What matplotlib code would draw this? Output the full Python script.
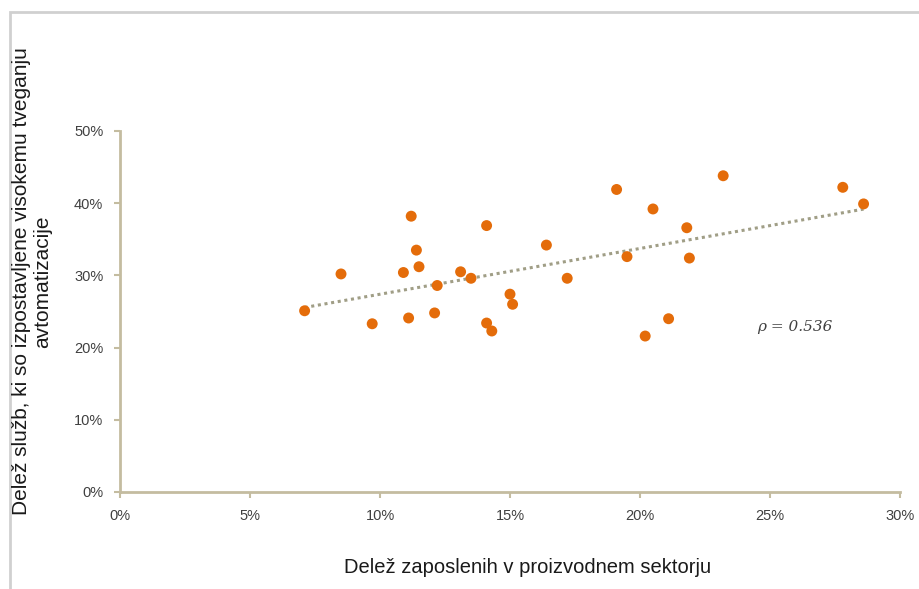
import matplotlib.pyplot as plt
from matplotlib.patches import Rectangle
from matplotlib.ticker import FuncFormatter
import numpy as np

# share of employment in manufacturing (%) vs share of jobs at high risk of automation (%)
manuf_share = [7.1, 8.5, 9.7, 10.9, 11.1, 11.2, 11.4, 11.5, 12.1, 12.2, 13.1, 13.5,
               14.1, 14.1, 14.3, 15.0, 15.1, 16.4, 17.2, 19.1, 19.5, 20.2, 20.5,
               21.1, 21.8, 21.9, 23.2, 27.8, 28.6]
risk_share = [25.1, 30.2, 23.3, 30.4, 24.1, 38.2, 33.5, 31.2, 24.8, 28.6, 30.5, 29.6,
              36.9, 23.4, 22.3, 27.4, 26.0, 34.2, 29.6, 41.9, 32.6, 21.6, 39.2,
              24.0, 36.6, 32.4, 43.8, 42.2, 39.9]
rho_text = "\u03c1 = 0.536"

x = np.array(manuf_share)
y = np.array(risk_share)

fig = plt.figure(figsize=(9.19, 5.89), dpi=100)
ax = fig.add_axes([0.1306, 0.1647, 0.8487, 0.6129])

# linear trend line over the data range
k, b = np.polyfit(x, y, 1)
xs = np.array([x.min(), x.max()])
ax.plot(xs, k * xs + b, color='#a09e86', linestyle=(0, (1, 1.2)), linewidth=2.2, zorder=2)

ax.scatter(x, y, s=62, color='#e46c0a', edgecolors='none', zorder=3)

ax.text(24.5, 22.85, rho_text, fontsize=11, family='DejaVu Serif', style='italic',
        color='#404040', va='center', ha='left')

ax.set_xlim(0, 30)
ax.set_ylim(0, 50)
ax.set_xticks(np.arange(0, 31, 5))
ax.set_yticks(np.arange(0, 51, 10))
pct = FuncFormatter(lambda v, p: f"{v:.0f}%")
ax.xaxis.set_major_formatter(pct)
ax.yaxis.set_major_formatter(pct)

axis_col = '#c4bca0'
for s in ['top', 'right']:
    ax.spines[s].set_visible(False)
for s in ['left', 'bottom']:
    ax.spines[s].set_color(axis_col)
    ax.spines[s].set_linewidth(2)
ax.tick_params(axis='both', direction='out', length=4, width=1.5, color=axis_col,
               labelsize=10.5, labelcolor='#404040')
ax.tick_params(axis='x', pad=8)
ax.tick_params(axis='y', pad=8)
for lbl in ax.get_xticklabels() + ax.get_yticklabels():
    lbl.set_family(['Liberation Sans Narrow', 'Liberation Sans'])

fig.text(0.5745, 0.037, "Delež zaposlenih v proizvodnem sektorju", fontsize=14.5,
         family='Liberation Sans', color='#1a1a1a', ha='center', va='center')
fig.text(0.035, 0.522, "Delež služb, ki so izpostavljene visokemu tveganju\navtomatizacije",
         fontsize=15, family='Liberation Sans', color='#1a1a1a', rotation=90,
         ha='center', va='center', multialignment='center', linespacing=1.15)

# light frame around the chart area
fig.patches.append(Rectangle((10 / 919, -0.1), 1.2, 1 - 12 / 589 + 0.1,
                             transform=fig.transFigure, fill=False,
                             edgecolor='#d0d0d0', linewidth=2))

fig.savefig('out.png', dpi=100)
